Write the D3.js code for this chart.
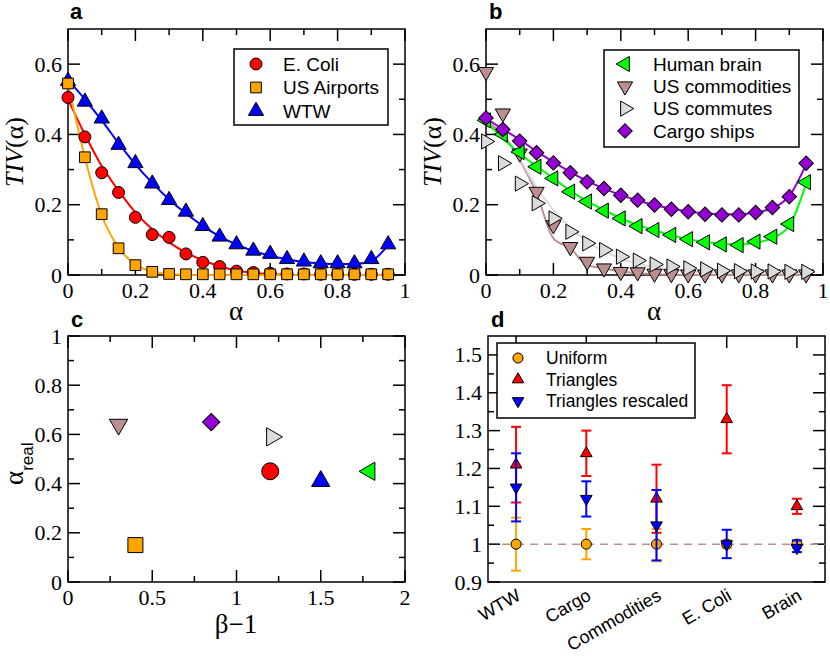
<!DOCTYPE html>
<html>
<head>
<meta charset="utf-8">
<script src="https://cdn.jsdelivr.net/npm/d3@7/dist/d3.min.js"></script>
<style>
  body { margin: 0; background: #fff; }
</style>
</head>
<body>
<svg id="chart" width="830" height="658"></svg>
<script>
// ===================================================================
// data

const ALPHA = [0, 0.05, 0.1, 0.15, 0.2, 0.25, 0.3, 0.35, 0.4, 0.45,
  0.5, 0.55, 0.6, 0.65, 0.7, 0.75, 0.8, 0.85, 0.9, 0.95]

// panel a
const ECOLI = [0.505, 0.393, 0.291, 0.235, 0.164, 0.115, 0.107, 0.06, 0.036, 0.024,
  0.011, 0.007, 0.005, 0.003, 0.003, 0.002, 0.002, 0.002, 0.002, 0.002]
const ECOLI_FIT = [0.5, 0.4, 0.31, 0.24, 0.178, 0.13, 0.093, 0.064, 0.042, 0.025,
  0.013, 0.006, 0.003, 0.001, 0, 0, 0, 0, 0, 0]
const AIRPORTS = [0.545, 0.335, 0.173, 0.076, 0.028, 0.009, 0.003, 0.002, 0.002, 0.002,
  0.002, 0.002, 0.002, 0.002, 0.002, 0.002, 0.002, 0.002, 0.002, 0.002]
const AIRPORTS_FIT = [0.545, 0.335, 0.17, 0.078, 0.03, 0.01, 0.003, 0.001, 0, 0,
  0, 0, 0, 0, 0, 0, 0, 0, 0, 0]
const WTW = [0.552, 0.493, 0.445, 0.37, 0.318, 0.26, 0.213, 0.18, 0.139, 0.109,
  0.087, 0.069, 0.06, 0.045, 0.038, 0.033, 0.033, 0.033, 0.045, 0.087]
const WTW_FIT = [0.555, 0.5, 0.44, 0.375, 0.315, 0.262, 0.215, 0.175, 0.14, 0.11,
  0.087, 0.068, 0.055, 0.045, 0.037, 0.033, 0.031, 0.031, 0.04, 0.085]

// panel b
const BRAIN = [0.44, 0.4, 0.35, 0.308, 0.275, 0.237, 0.209, 0.183, 0.161, 0.139,
  0.128, 0.114, 0.102, 0.093, 0.087, 0.085, 0.095, 0.109, 0.145, 0.264]
const BRAIN_FIT = [0.435, 0.39, 0.345, 0.31, 0.275, 0.24, 0.21, 0.185, 0.162, 0.142,
  0.127, 0.113, 0.102, 0.094, 0.089, 0.087, 0.092, 0.105, 0.14, 0.26]
const COMMODITIES = [0.578, 0.46, 0.346, 0.237, 0.142, 0.08, 0.038, 0.019, 0.009, 0.008,
  0.004, 0.003, 0.002, 0.002, 0.002, 0.002, 0.002, 0.002, 0.002, 0.002]
const COMMODITIES_FIT = [0.436, 0.4, 0.327, 0.232, 0.104, 0.076, 0.028, 0.019, 0.01, 0.005,
  0.002, 0.001, 0, 0, 0, 0, 0, 0, 0, 0]
const COMMUTES = [0.38, 0.318, 0.26, 0.204, 0.161, 0.123, 0.09, 0.071, 0.052, 0.041,
  0.03, 0.024, 0.019, 0.016, 0.012, 0.011, 0.01, 0.01, 0.009, 0.009]
const COMMUTES_FIT = [0.43, 0.39, 0.33, 0.25, 0.185, 0.135, 0.095, 0.068, 0.047, 0.032,
  0.022, 0.015, 0.01, 0.008, 0.007, 0.006, 0.006, 0.006, 0.006, 0.006]
const CARGO = [0.447, 0.414, 0.381, 0.348, 0.319, 0.291, 0.265, 0.246, 0.227, 0.213,
  0.199, 0.187, 0.18, 0.173, 0.171, 0.171, 0.178, 0.192, 0.223, 0.318]
const CARGO_FIT = [0.445, 0.415, 0.385, 0.352, 0.322, 0.293, 0.268, 0.246, 0.228, 0.212,
  0.199, 0.189, 0.181, 0.176, 0.173, 0.173, 0.178, 0.19, 0.225, 0.315]

// panel c : E. Coli, US Airports, WTW, Human brain, US commodities, US commutes, Cargo ships
const BETA_M1 = [1.2, 0.4, 1.5, 1.79, 0.3, 1.21, 0.85]
const ALPHA_REAL = [0.45, 0.15, 0.41, 0.45, 0.64, 0.59, 0.65]

// panel d
const NETWORKS = ['WTW', 'Cargo', 'Commodities', 'E. Coli', 'Brain']
const UNIFORM = [1, 1, 1, 1, 1]
const UNIFORM_LO = [0.93, 0.96, 0.955, 0.99, 0.99]
const UNIFORM_HI = [1.07, 1.04, 1.04, 1.01, 1.01]
const TRIANGLES = [1.21, 1.24, 1.12, 1.33, 1.1]
const TRIANGLES_LO = [1.11, 1.18, 1.03, 1.24, 1.08]
const TRIANGLES_HI = [1.31, 1.3, 1.21, 1.42, 1.12]
const RESCALED = [1.15, 1.12, 1.05, 1.0, 0.99]
const RESCALED_LO = [1.06, 1.073, 0.957, 0.963, 0.979]
const RESCALED_HI = [1.24, 1.166, 1.143, 1.038, 1.01]

// ticks
const TICKS_TIV_X = [0, 0.2, 0.4, 0.6, 0.8, 1]
const MINOR_TIV_X = [0.1, 0.3, 0.5, 0.7, 0.9]
const TICKS_TIV_Y = [0, 0.2, 0.4, 0.6]
const MINOR_TIV_Y = [0.1, 0.3, 0.5]
const TICKS_C_X = [0, 0.5, 1, 1.5, 2]
const MINOR_C_X = [0.25, 0.75, 1.25, 1.75]
const TICKS_C_Y = [0, 0.2, 0.4, 0.6, 0.8, 1]
const MINOR_C_Y = [0.1, 0.3, 0.5, 0.7, 0.9]
const TICKS_D_Y = [0.9, 1, 1.1, 1.2, 1.3, 1.4, 1.5]
const MINOR_D_Y = [0.95, 1.05, 1.15, 1.25, 1.35, 1.45]

// ===================================================================
// styles

const SERIF = 'Liberation Serif, Times New Roman, serif'
const SANS = 'Liberation Sans, Arial, sans-serif'

const COLORS = {
  red: '#ff0000',
  orange: '#ffa500',
  blue: '#0000ff',
  green: '#00ff00',
  brown: '#bc8f8f',
  grey: '#dcdcdc',
  violet: '#9400d3'
}

const SHAPES = {
  circle: { type: d3.symbolCircle, rot: 0 },
  square: { type: d3.symbolSquare, rot: 0 },
  up: { type: d3.symbolTriangle, rot: 0 },
  down: { type: d3.symbolTriangle, rot: 180 },
  left: { type: d3.symbolTriangle, rot: -90 },
  right: { type: d3.symbolTriangle, rot: 90 },
  diamond: { type: d3.symbolSquare, rot: 45 }
}

const MAJOR_TICK = 12
const MINOR_TICK = 6

const svg = d3.select('#chart')

svg.append('rect')
  .attr('width', '100%')
  .attr('height', '100%')
  .attr('fill', 'white')

// ===================================================================

function symbolPath (shape, size) {
  return d3.symbol().type(SHAPES[shape].type).size(size)()
}

function drawSymbol (g, shape, size, color, cx, cy) {
  g.append('path')
    .attr('d', symbolPath(shape, size))
    .attr('transform', `translate(${cx},${cy}) rotate(${SHAPES[shape].rot})`)
    .attr('fill', color)
    .attr('stroke', 'black')
    .attr('stroke-width', 1)
}

// inward ticks on one side of the frame, optional serif labels
function sideTicks (g, scale, values, side, len, box, labelled) {
  const W = box.width
  const H = box.height
  values.forEach(v => {
    const p = scale(v)
    const l = g.append('line')
      .attr('stroke', 'black')
      .attr('stroke-width', 1.5)
    if (side === 'bottom') l.attr('x1', p).attr('x2', p).attr('y1', H).attr('y2', H - len)
    if (side === 'top') l.attr('x1', p).attr('x2', p).attr('y1', 0).attr('y2', len)
    if (side === 'left') l.attr('y1', p).attr('y2', p).attr('x1', 0).attr('x2', len)
    if (side === 'right') l.attr('y1', p).attr('y2', p).attr('x1', W).attr('x2', W - len)
    if (!labelled) return
    const t = g.append('text')
      .style('font-family', SERIF)
      .style('font-size', '22px')
      .attr('fill', 'black')
      .text(String(v))
    if (side === 'bottom') {
      t.attr('x', p).attr('y', H + 23).attr('text-anchor', 'middle')
    } else {
      t.attr('x', -6).attr('y', p + 7.5).attr('text-anchor', 'end')
    }
  })
}

function makeFrame (box, x, y, opts) {
  const g = svg.append('g').attr('transform', `translate(${box.left},${box.top})`)

  if (opts.xMinor) {
    sideTicks(g, x, opts.xMinor, 'bottom', MINOR_TICK, box, false)
    sideTicks(g, x, opts.xMinor, 'top', MINOR_TICK, box, false)
  }
  sideTicks(g, y, opts.yMinor, 'left', MINOR_TICK, box, false)
  sideTicks(g, y, opts.yMinor, 'right', MINOR_TICK, box, false)

  if (opts.xMajor) sideTicks(g, x, opts.xMajor, 'bottom', MAJOR_TICK, box, true)
  sideTicks(g, x, opts.xTop || opts.xMajor, 'top', MAJOR_TICK, box, false)
  sideTicks(g, y, opts.yMajor, 'left', MAJOR_TICK, box, true)
  sideTicks(g, y, opts.yMajor, 'right', MAJOR_TICK, box, false)

  g.append('rect')
    .attr('width', box.width)
    .attr('height', box.height)
    .attr('fill', 'none')
    .attr('stroke', 'black')
    .attr('stroke-width', 1.5)

  return g
}

function panelLetter (letter, px, py) {
  svg.append('text')
    .attr('x', px)
    .attr('y', py)
    .style('font-family', SANS)
    .style('font-weight', 'bold')
    .style('font-size', '22px')
    .text(letter)
}

function tivLabel (cx, cy) {
  const t = svg.append('text')
    .attr('transform', `translate(${cx},${cy}) rotate(-90)`)
    .attr('text-anchor', 'middle')
    .style('font-family', SERIF)
    .style('font-size', '26px')
  t.append('tspan').style('font-style', 'italic').text('TIV')
  t.append('tspan').text('(α)')
}

function xLabel (text, cx, cy) {
  svg.append('text')
    .attr('x', cx)
    .attr('y', cy)
    .attr('text-anchor', 'middle')
    .style('font-family', SERIF)
    .style('font-size', '27px')
    .text(text)
}

function legend (box, entries, fontSize) {
  const g = svg.append('g')
  g.append('rect')
    .attr('x', box.x).attr('y', box.y)
    .attr('width', box.w).attr('height', box.h)
    .attr('fill', 'white')
    .attr('stroke', 'black')
    .attr('stroke-width', 1.5)
  entries.forEach((e, i) => {
    const cy = box.first + i * box.step
    drawSymbol(g, e.shape, e.size, e.color, box.symX, cy)
    g.append('text')
      .attr('x', box.textX)
      .attr('y', cy + fontSize * 0.36)
      .style('font-family', SANS)
      .style('font-size', fontSize + 'px')
      .text(e.label)
  })
}

function tivPanel (box, series) {
  const x = d3.scaleLinear().domain([0, 1]).range([0, box.width])
  const y = d3.scaleLinear().domain([0, 0.7]).range([box.height, 0])
  const g = makeFrame(box, x, y, {
    xMajor: TICKS_TIV_X, xMinor: MINOR_TIV_X, yMajor: TICKS_TIV_Y, yMinor: MINOR_TIV_Y
  })
  const line = d3.line()
    .x((d, i) => x(ALPHA[i]))
    .y(d => y(d))
    .curve(d3.curveMonotoneX)
  series.forEach(s => {
    g.append('path')
      .datum(s.fit)
      .attr('d', line)
      .attr('fill', 'none')
      .attr('stroke', s.color)
      .attr('stroke-width', 2)
  })
  series.forEach(s => {
    s.values.forEach((v, i) => drawSymbol(g, s.shape, s.size, s.color, x(ALPHA[i]), y(v)))
  })
}

// ===================================================================
// panel a

const BOX_A = { left: 68, top: 29, width: 337, height: 246 }
tivPanel(BOX_A, [
  { values: WTW, fit: WTW_FIT, color: COLORS.blue, shape: 'up', size: 100 },
  { values: ECOLI, fit: ECOLI_FIT, color: COLORS.red, shape: 'circle', size: 113 },
  { values: AIRPORTS, fit: AIRPORTS_FIT, color: COLORS.orange, shape: 'square', size: 115 }
])
legend({ x: 234, y: 49, w: 154, h: 76, first: 64, step: 23.5, symX: 256, textX: 283 }, [
  { label: 'E. Coli', shape: 'circle', size: 113, color: COLORS.red },
  { label: 'US Airports', shape: 'square', size: 115, color: COLORS.orange },
  { label: 'WTW', shape: 'up', size: 100, color: COLORS.blue }
], 19)
panelLetter('a', 70, 19)
tivLabel(23, 152)
xLabel('α', 236, 320)

// ===================================================================
// panel b

const BOX_B = { left: 486, top: 29, width: 337, height: 246 }
tivPanel(BOX_B, [
  { values: COMMODITIES, fit: COMMODITIES_FIT, color: COLORS.brown, shape: 'down', size: 100 },
  { values: COMMUTES, fit: COMMUTES_FIT, color: COLORS.grey, shape: 'right', size: 100 },
  { values: BRAIN, fit: BRAIN_FIT, color: COLORS.green, shape: 'left', size: 100 },
  { values: CARGO, fit: CARGO_FIT, color: COLORS.violet, shape: 'diamond', size: 105 }
])
legend({ x: 604, y: 50, w: 195, h: 97, first: 64, step: 22.3, symX: 625, textX: 653 }, [
  { label: 'Human brain', shape: 'left', size: 100, color: COLORS.green },
  { label: 'US commodities', shape: 'down', size: 100, color: COLORS.brown },
  { label: 'US commutes', shape: 'right', size: 100, color: COLORS.grey },
  { label: 'Cargo ships', shape: 'diamond', size: 105, color: COLORS.violet }
], 19)
panelLetter('b', 489, 19)
tivLabel(441, 152)
xLabel('α', 654, 320)

// ===================================================================
// panel c

const BOX_C = { left: 68, top: 336, width: 337, height: 246 }
const SCATTER = [
  { color: COLORS.red, shape: 'circle', size: 227 },
  { color: COLORS.orange, shape: 'square', size: 225 },
  { color: COLORS.blue, shape: 'up', size: 145 },
  { color: COLORS.green, shape: 'left', size: 145 },
  { color: COLORS.brown, shape: 'down', size: 145 },
  { color: COLORS.grey, shape: 'right', size: 145 },
  { color: COLORS.violet, shape: 'diamond', size: 150 }
]
{
  const x = d3.scaleLinear().domain([0, 2]).range([0, BOX_C.width])
  const y = d3.scaleLinear().domain([0, 1]).range([BOX_C.height, 0])
  const g = makeFrame(BOX_C, x, y, {
    xMajor: TICKS_C_X, xMinor: MINOR_C_X, yMajor: TICKS_C_Y, yMinor: MINOR_C_Y
  })
  BETA_M1.forEach((b, i) => {
    const s = SCATTER[i]
    drawSymbol(g, s.shape, s.size, s.color, x(b), y(ALPHA_REAL[i]))
  })
}
panelLetter('c', 71, 327)
{
  const t = svg.append('text')
    .attr('transform', 'translate(23,485) rotate(-90)')
    .style('font-family', SERIF)
    .style('font-size', '27px')
  t.append('tspan').text('α')
  t.append('tspan')
    .attr('dy', 10)
    .style('font-family', SANS)
    .style('font-size', '17px')
    .text('real')
}
xLabel('β−1', 236, 633)

// ===================================================================
// panel d

const BOX_D = { left: 488, top: 336, width: 337, height: 246 }
{
  const pos = NETWORKS.map((d, i) => i + 1)
  const x = d3.scaleLinear().domain([0.6, 5.4]).range([0, BOX_D.width])
  const y = d3.scaleLinear().domain([0.9, 1.55]).range([BOX_D.height, 0])
  const g = makeFrame(BOX_D, x, y, {
    xTop: pos, yMajor: TICKS_D_Y, yMinor: MINOR_D_Y
  })

  g.append('line')
    .attr('x1', x(0.8)).attr('x2', x(5.4))
    .attr('y1', y(1)).attr('y2', y(1))
    .attr('stroke', COLORS.brown)
    .attr('stroke-width', 1.5)
    .attr('stroke-dasharray', '8,6')

  const sets = [
    { values: UNIFORM, lo: UNIFORM_LO, hi: UNIFORM_HI, color: COLORS.orange, shape: 'circle', size: 80 },
    { values: TRIANGLES, lo: TRIANGLES_LO, hi: TRIANGLES_HI, color: COLORS.red, shape: 'up', size: 58 },
    { values: RESCALED, lo: RESCALED_LO, hi: RESCALED_HI, color: COLORS.blue, shape: 'down', size: 58 }
  ]
  sets.forEach(s => {
    s.values.forEach((v, i) => {
      const cx = x(pos[i])
      g.append('line')
        .attr('x1', cx).attr('x2', cx)
        .attr('y1', y(s.lo[i])).attr('y2', y(s.hi[i]))
        .attr('stroke', s.color).attr('stroke-width', 2)
      ;[s.lo[i], s.hi[i]].forEach(e => {
        g.append('line')
          .attr('x1', cx - 5).attr('x2', cx + 5)
          .attr('y1', y(e)).attr('y2', y(e))
          .attr('stroke', s.color).attr('stroke-width', 2)
      })
      drawSymbol(g, s.shape, s.size, s.color, cx, y(v))
    })
  })

  NETWORKS.forEach((name, i) => {
    g.append('text')
      .attr('transform', `translate(${x(pos[i]) + 6},${BOX_D.height + 17}) rotate(-30)`)
      .attr('text-anchor', 'end')
      .style('font-family', SANS)
      .style('font-size', '18px')
      .text(name)
  })
}
legend({ x: 497, y: 343, w: 198, h: 75, first: 358, step: 21.5, symX: 518, textX: 546 }, [
  { label: 'Uniform', shape: 'circle', size: 80, color: COLORS.orange },
  { label: 'Triangles', shape: 'up', size: 58, color: COLORS.red },
  { label: 'Triangles rescaled', shape: 'down', size: 58, color: COLORS.blue }
], 17.5)
panelLetter('d', 491, 327)
</script>
</body>
</html>
